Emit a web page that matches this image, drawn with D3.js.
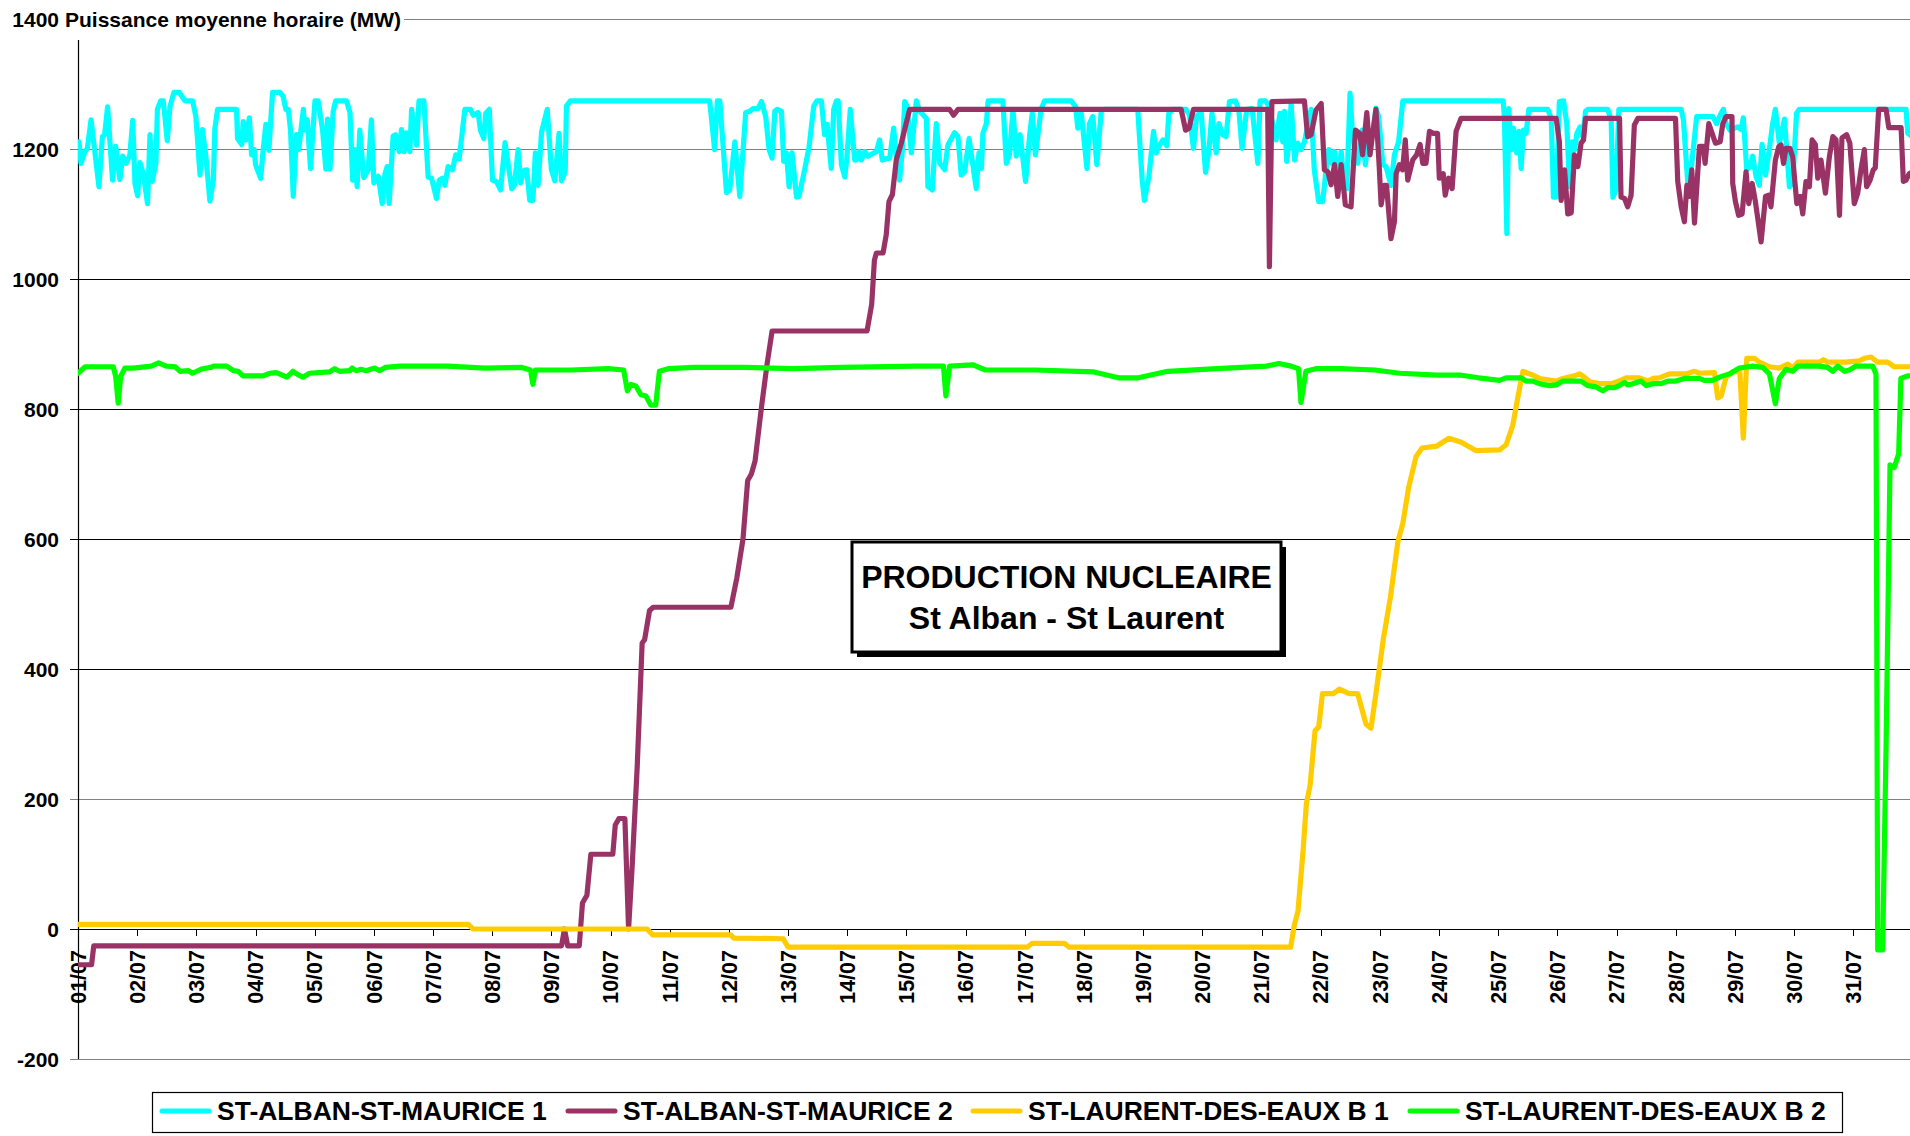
<!DOCTYPE html>
<html><head><meta charset="utf-8">
<script src="https://cdn.jsdelivr.net/npm/d3@7"></script>
<style>
body{margin:0;background:#fff}
svg{display:block}
text{font-family:"Liberation Sans",Arial,Helvetica,sans-serif;font-weight:bold;fill:#000}
</style>
</head><body>
<svg id="chart" width="1910" height="1136"></svg>
<script>
// ---- data (hour since 01/07 00:00, MW) ----
const dayLabels = ["01/07","02/07","03/07","04/07","05/07","06/07","07/07","08/07","09/07","10/07","11/07","12/07","13/07","14/07","15/07","16/07","17/07","18/07","19/07","20/07","21/07","22/07","23/07","24/07","25/07","26/07","27/07","28/07","29/07","30/07","31/07"];
const yTickValues = [-200,0,200,400,600,800,1000,1200,1400];
const seriesNames = ["ST-ALBAN-ST-MAURICE 1","ST-ALBAN-ST-MAURICE 2","ST-LAURENT-DES-EAUX B 1","ST-LAURENT-DES-EAUX B 2"];
const seriesColors = ["#00FFFF","#993366","#FFCC00","#00FF00"];
const chartTitle = ["PRODUCTION NUCLEAIRE","St Alban - St Laurent"];
const yAxisTitle = "Puissance moyenne horaire (MW)";

const stAlban1 = [[0.4,1211],[1.2,1178],[2.8,1196],[3.8,1201],[5.3,1245],[8.5,1142],[9.9,1219],[10.8,1222],[12,1265],[14,1152],[15.3,1204],[17,1153],[18.1,1189],[19.5,1178],[21,1190],[22.2,1244],[23.1,1147],[24.2,1128],[25.1,1179],[26.5,1162],[28.2,1116],[29.2,1222],[30.1,1150],[31.6,1178],[32.2,1261],[33.5,1274],[34.6,1274],[36.2,1213],[37.3,1265],[38.9,1287],[41.1,1287],[43.4,1274],[46.5,1274],[47.8,1250],[49.5,1160],[50.5,1230],[51.9,1187],[53.5,1120],[54.9,1152],[55.5,1231],[56.6,1261],[64.3,1261],[64.7,1216],[66.4,1207],[67,1242],[68.1,1214],[69.5,1248],[70.4,1191],[71.5,1199],[72,1176],[74.1,1155],[75.1,1199],[76.2,1238],[77.4,1198],[78.1,1239],[78.9,1287],[81.9,1287],[83.2,1281],[84.3,1261],[85.3,1261],[86.2,1229],[87.3,1127],[88.6,1222],[89.5,1199],[91.4,1261],[92,1229],[93,1245],[94.3,1170],[96.1,1274],[97.4,1274],[99.2,1229],[100.5,1169],[101.2,1246],[102.2,1169],[103.5,1258],[104.5,1274],[108.9,1274],[110.3,1256],[111.4,1152],[112.3,1199],[113.2,1142],[114.3,1229],[115.9,1156],[117.7,1168],[119,1245],[120,1148],[121.8,1158],[123.4,1116],[124.5,1162],[125.4,1173],[126.2,1116],[127.8,1220],[128.8,1222],[130.3,1196],[131.2,1230],[132.3,1196],[133.2,1225],[134.6,1196],[135.3,1261],[137.3,1206],[138.3,1274],[140.3,1274],[142,1157],[143.4,1155],[145.4,1124],[146.5,1152],[147.8,1155],[148.8,1144],[150.1,1173],[151.9,1168],[153.2,1191],[154.6,1185],[156.9,1261],[159.2,1261],[160.3,1252],[162.3,1256],[163.2,1229],[164.6,1216],[165.4,1255],[166.8,1261],[168.1,1152],[169.7,1150],[171.4,1137],[173.2,1210],[175.9,1139],[177,1144],[178.5,1199],[179.5,1148],[180.8,1167],[182,1168],[183.2,1121],[184.5,1121],[185.5,1194],[186.6,1144],[188,1226],[190.3,1261],[192,1168],[193.4,1151],[195.1,1224],[196.1,1151],[197.6,1165],[198.1,1266],[199.7,1274],[256.2,1274],[258.2,1199],[259.3,1274],[260.3,1274],[263,1133],[264.3,1137],[266.4,1211],[268.4,1127],[270.8,1256],[272.4,1258],[273.8,1262],[275.8,1262],[277.2,1273],[278.9,1250],[280.3,1199],[281.5,1186],[282.6,1258],[283.5,1261],[285.3,1258],[286.2,1181],[287.3,1194],[288.4,1142],[289.6,1194],[291.4,1126],[292.4,1127],[294.7,1168],[296.5,1203],[298.4,1266],[299.7,1274],[301.5,1274],[302.8,1222],[303.8,1238],[305.5,1170],[306.5,1261],[307.6,1274],[308.3,1274],[309.6,1176],[311,1157],[311.9,1189],[313.2,1261],[315,1183],[315.7,1183],[316.8,1196],[317.7,1183],[319.1,1196],[320.4,1189],[321.8,1192],[323.8,1196],[325.1,1214],[326.2,1183],[327.8,1185],[329.2,1186],[330.8,1232],[331.9,1186],[333.2,1152],[334.3,1196],[335.3,1273],[336.2,1266],[338,1194],[340,1274],[341.4,1258],[344.1,1247],[344.7,1142],[346.5,1137],[348.1,1239],[349.5,1178],[351.5,1168],[352.8,1206],[355.5,1225],[356.9,1219],[358.2,1160],[359.6,1165],[361.4,1216],[364.3,1139],[365.4,1194],[366.4,1170],[367,1224],[368.4,1239],[369.1,1274],[375.1,1274],[376.5,1178],[377.8,1191],[379.2,1261],[380.5,1189],[382.1,1222],[384.3,1150],[385.9,1219],[387,1255],[388.3,1191],[390.6,1261],[392,1274],[402.8,1274],[404.6,1265],[405.5,1232],[406.9,1255],[409.2,1170],[410.2,1239],[411.6,1250],[413.2,1176],[415,1258],[416.3,1261],[429.8,1261],[431.6,1152],[432.5,1121],[434.3,1157],[436.2,1227],[437.3,1194],[438.6,1206],[440,1214],[441.6,1205],[442.4,1255],[444,1261],[449.4,1261],[450.8,1252],[452.4,1201],[453.7,1250],[455.5,1258],[457.3,1164],[458.6,1196],[459.9,1255],[461.6,1194],[462.7,1239],[464.3,1222],[465.6,1219],[467,1273],[469.4,1274],[470.8,1260],[472.1,1201],[474,1261],[476.2,1262],[478.5,1178],[479.4,1274],[481.6,1274],[483,1266],[485.9,1214],[487.5,1255],[488.6,1211],[489.3,1258],[490.2,1181],[491.3,1214],[492,1271],[493.4,1183],[494.7,1209],[496,1199],[497.4,1211],[500.1,1261],[501.4,1168],[503.2,1119],[504.8,1119],[506.2,1168],[507.3,1199],[508.6,1178],[509.6,1196],[510.9,1150],[512.3,1196],[513,1168],[514.6,1139],[515.9,1286],[517,1216],[519,1178],[520.8,1229],[522.1,1176],[523.5,1224],[525.1,1222],[526.4,1263],[527.5,1250],[529.2,1176],[530.5,1173],[532.5,1144],[533.9,1191],[535.6,1211],[537.3,1274],[578,1274],[578.5,1250],[579.5,1070],[580.3,1262],[581.2,1199],[582.2,1232],[583.5,1194],[584.4,1227],[585.3,1170],[586.2,1229],[587.3,1224],[588.4,1261],[596.1,1261],[597.5,1247],[598.4,1126],[599.5,1126],[600.8,1273],[602.5,1274],[603.8,1239],[604.9,1142],[606,1211],[607,1199],[607.9,1224],[609.2,1234],[610.3,1219],[611.4,1258],[612.3,1261],[620.4,1261],[621.8,1245],[622.5,1126],[623.8,1137],[624.9,1261],[650.2,1261],[651.1,1245],[652.9,1147],[654.2,1168],[656.5,1250],[660.3,1250],[663,1250],[664.6,1239],[666,1252],[667.3,1261],[668.4,1239],[670,1229],[673.1,1234],[674.5,1230],[675.4,1248],[676.8,1168],[678.1,1173],[679.2,1189],[680.6,1157],[681.9,1144],[683,1207],[684.4,1160],[686,1201],[687.3,1239],[688.4,1261],[690,1209],[692.1,1246],[694.1,1142],[695.4,1147],[697,1255],[698.1,1261],[741.4,1261],[742.1,1224],[744,1219]];

const stAlban2 = [[0,-55],[5.5,-55],[6.4,-26],[196.1,-26],[197.3,0],[198.6,-26],[203.3,-26],[204.6,40],[206.4,52],[208,115],[216.9,115],[217.9,160],[219.4,170],[221.8,170],[223.3,0],[224.8,100],[226.8,250],[228.8,440],[229.8,445],[231.8,490],[233.3,495],[264.8,495],[267.2,540],[269.7,600],[271.6,690],[273.1,700],[274.6,720],[277.1,800],[279.5,870],[281.5,920],[320,920],[321.9,961],[323,1029],[323.8,1040],[326.5,1040],[327.8,1068],[328.9,1119],[330.3,1130],[331.9,1184],[333.9,1209],[337.3,1261],[353.5,1261],[355.1,1252],[356.9,1261],[447.4,1261],[449.2,1229],[450.6,1232],[452.4,1261],[482.5,1261],[483.2,1019],[484.2,1273],[497.4,1274],[498.7,1219],[500.1,1222],[502.1,1260],[504.2,1270],[505.5,1168],[506.9,1165],[508.2,1145],[509.6,1176],[510.9,1127],[512.3,1176],[514,1114],[516.3,1111],[518.1,1229],[519.8,1224],[521,1191],[522.7,1256],[524,1191],[525.2,1227],[526.4,1261],[527.8,1168],[528.5,1114],[529.8,1144],[530.7,1144],[532.5,1062],[533.9,1088],[534.6,1162],[535.9,1176],[537.2,1168],[538.3,1214],[539.3,1152],[541.3,1183],[542.9,1191],[544.3,1207],[545.4,1178],[546.7,1178],[548.1,1227],[549.7,1224],[551.4,1224],[552.1,1155],[553.7,1162],[554.5,1129],[555.9,1155],[557.3,1139],[558.9,1227],[560.9,1247],[599.5,1247],[600.8,1211],[601.5,1121],[602.9,1168],[604.2,1100],[605.6,1102],[606.9,1191],[608.3,1173],[609.6,1209],[610.6,1214],[611.4,1247],[625.2,1247],[625.8,1126],[627.2,1124],[628.5,1111],[629.9,1129],[631.2,1237],[632.6,1247],[647.9,1247],[648.8,1150],[650.2,1111],[651.5,1088],[652.5,1144],[653.5,1127],[654.5,1168],[655.6,1086],[657.6,1204],[659.2,1204],[659.9,1178],[661.4,1239],[664.1,1209],[666,1211],[667.1,1239],[668.4,1250],[670.8,1250],[671.1,1147],[672.2,1119],[673.5,1098],[674.9,1100],[676.5,1165],[677.6,1116],[679,1147],[680.3,1119],[682.6,1057],[684.4,1127],[685.7,1129],[686.6,1111],[688.4,1183],[689.8,1204],[690.7,1206],[691.7,1178],[692.7,1201],[694.3,1201],[695.4,1188],[697.1,1116],[698.5,1127],[699.5,1100],[700.8,1150],[702.2,1142],[703.3,1214],[704.6,1207],[705.6,1155],[706.9,1183],[708.7,1132],[710.3,1188],[711.7,1219],[713,1214],[714.4,1098],[715.4,1217],[717.3,1222],[718.6,1209],[720.4,1116],[721.8,1132],[723.1,1168],[724.5,1199],[725.4,1142],[726.8,1152],[728.1,1168],[728.9,1171],[730.3,1261],[733.3,1261],[734.4,1233],[739.4,1233],[740.3,1150],[741.4,1152],[742.7,1162],[744,1165]];

const stLaurentB1 = [[0,7],[158.4,7],[160.2,0],[230.8,0],[233,-9],[264.7,-9],[266,-14],[286,-15],[288,-28],[385,-28],[387,-22],[400,-22],[402,-28],[491.8,-28],[493.3,6],[494.8,28],[496.8,118],[498.2,193],[499.7,221],[501.7,305],[503.2,311],[504.7,362],[509.1,362],[511.6,369],[515.5,362],[519,362],[522.4,315],[524.4,309],[526.4,362],[529.4,446],[532.3,511],[535.3,596],[537.3,624],[539.7,680],[542.7,727],[545.1,740],[551.1,743],[556,755],[561,749],[566.9,736],[576.5,737],[579.2,745],[581.9,775],[583.9,817],[586,858],[588,855],[590,852],[592.7,847],[599.5,843],[602.2,847],[606.9,851],[609,854],[611,849],[613,842],[617,839],[622,839],[625,843],[627.9,848],[633,848],[636.6,843],[638.7,847],[641.4,848],[645.4,854],[652.2,854],[655.6,858],[657.6,855],[663.7,856],[665,817],[666.4,820],[668.4,849],[671.1,857],[674,858],[675.4,755],[676.8,878],[679.9,878],[681.9,872],[686,865],[690,863],[693.4,869],[695.4,863],[697.5,872],[706.2,872],[707.9,876],[709.6,872],[717,872],[722.4,874],[724.5,878],[727.2,880],[729.9,872],[733.9,872],[736.6,865],[744,865]];

const stLaurentB2 = [[0,855],[2.9,865],[14.3,865],[15.3,850],[16.3,809],[17.3,850],[19,863],[22.4,863],[29.7,866],[32.7,871],[35.8,866],[39.4,865],[41.4,858],[44.8,859],[46.4,855],[50.5,862],[53.9,864],[54.9,866],[60.3,866],[63,859],[65,858],[66.9,851],[75,851],[77.8,855],[80.5,856],[84.7,849],[87.2,858],[89.5,852],[91.2,849],[93.9,855],[102,857],[104.1,862],[106.1,858],[110.2,859],[111.2,863],[112.8,859],[114.8,861],[116.8,859],[120.3,863],[122.3,859],[124.6,864],[130.7,866],[150,866],[165,863],[180,864],[183.5,860],[184.5,838],[185.5,860],[200,860],[215,862],[221.3,860],[222.8,828],[224.3,838],[226.3,835],[228.3,822],[230.3,820],[232.3,806],[234.3,806],[235.8,858],[239.3,862],[250,864],[270,864],[290,862],[310,864],[340,866],[351,866],[352,820],[353.5,866],[363,868],[368,860],[388,860],[412,857],[422,848],[430,848],[442,858],[462,862],[482,866],[487,870],[492,866],[495,862],[496,810],[498,858],[502,862],[512,862],[526,860],[536,855],[551,852],[561,852],[568,848],[576.5,844],[579.2,848],[585.3,848],[587.3,843],[590,843],[592.7,839],[596.8,836],[599.5,837],[602.2,843],[609.6,843],[612.3,836],[615.7,834],[618.4,828],[620.4,833],[623.1,833],[625.1,836],[627.2,841],[628.5,837],[630.6,839],[633.9,843],[636,836],[638.7,839],[642,839],[644.7,843],[648.1,843],[651.5,847],[657.6,847],[659.6,844],[663,844],[665.7,849],[669.7,854],[673.8,863],[679.2,866],[683.3,864],[686,854],[688.4,808],[690,847],[692.7,861],[695.4,858],[697.5,866],[706.2,866],[709.6,864],[711.6,858],[713.7,866],[716.4,858],[718.4,860],[721.1,866],[727.9,866],[729.2,854],[729.9,-32],[731.9,-32],[733.3,281],[734.9,714],[736.6,710],[738.4,731],[739.3,847],[742,851],[744,851]];

const seriesData = [stAlban1, stAlban2, stLaurentB1, stLaurentB2];

// ---- layout ----
const svg = d3.select("#chart");
const x = d3.scaleLinear().domain([0, 743]).range([78, 1910]);
const y = d3.scaleLinear().domain([-200, 1400]).range([1059, 19]);
const xLeft = 78, xRight = 1910;

// gridlines + left ticks
const darkLines = new Set([0, 400, 600, 800, 1000]);
svg.append("g").selectAll("line").data(yTickValues).join("line")
  .attr("x1", d => d === 1400 ? 404 : 70)
  .attr("x2", xRight)
  .attr("y1", d => Math.round(y(d)) + 0.5)
  .attr("y2", d => Math.round(y(d)) + 0.5)
  .attr("stroke", d => darkLines.has(d) ? "#000" : "#808080")
  .attr("stroke-width", 1);

// y labels
svg.append("g").selectAll("text").data(yTickValues).join("text")
  .attr("x", 59).attr("y", d => y(d)).attr("dy", "0.36em")
  .attr("text-anchor", "end").style("font-size", "21px")
  .text(d => d);

// y axis title
svg.append("text").attr("x", 65).attr("y", y(1400)).attr("dy", "0.36em")
  .style("font-size", "21px").text(yAxisTitle);

// y axis line
svg.append("line").attr("x1", xLeft + 0.5).attr("x2", xLeft + 0.5)
  .attr("y1", 40).attr("y2", y(-200)).attr("stroke", "#000").attr("stroke-width", 1.2);

// x ticks + labels
const dayPos = dayLabels.map((d, i) => ({label: d, h: i * 24}));
svg.append("g").selectAll("line").data(dayPos).join("line")
  .attr("x1", d => Math.round(x(d.h)) + 0.5).attr("x2", d => Math.round(x(d.h)) + 0.5)
  .attr("y1", y(0)).attr("y2", y(0) + 7)
  .attr("stroke", "#000").attr("stroke-width", 1);
svg.append("g").selectAll("text").data(dayPos).join("text")
  .attr("transform", d => `translate(${x(d.h)},${y(0) + 21}) rotate(-90)`)
  .attr("text-anchor", "end").attr("dy", "0.36em")
  .style("font-size", "21.5px").text(d => d.label);

// series lines
const line = d3.line().x(d => x(d[0])).y(d => y(d[1]));
svg.append("defs").append("clipPath").attr("id", "plotclip")
  .append("rect").attr("x", xLeft).attr("y", 0).attr("width", xRight - xLeft).attr("height", 1080);
const lg = svg.append("g").attr("clip-path", "url(#plotclip)");
seriesData.forEach((s, i) => {
  lg.append("path").datum(s).attr("d", line)
    .attr("fill", "none").attr("stroke", seriesColors[i])
    .attr("stroke-width", 5.2).attr("stroke-linejoin", "round").attr("stroke-linecap", "round");
});

// title box
const tb = {x: 852, y: 542, w: 429, h: 110};
svg.append("rect").attr("x", tb.x + 5).attr("y", tb.y + 5).attr("width", tb.w).attr("height", tb.h).attr("fill", "#000");
svg.append("rect").attr("x", tb.x).attr("y", tb.y).attr("width", tb.w).attr("height", tb.h)
  .attr("fill", "#fff").attr("stroke", "#000").attr("stroke-width", 3);
svg.append("text").attr("x", tb.x + tb.w / 2).attr("y", 588).attr("text-anchor", "middle")
  .style("font-size", "32px").text(chartTitle[0]);
svg.append("text").attr("x", tb.x + tb.w / 2).attr("y", 629).attr("text-anchor", "middle")
  .style("font-size", "32px").text(chartTitle[1]);

// legend
svg.append("rect").attr("x", 152.5).attr("y", 1092.5).attr("width", 1690).attr("height", 40)
  .attr("fill", "#fff").attr("stroke", "#000").attr("stroke-width", 1.2);
const legendX = [160, 566, 971, 1408];
seriesNames.forEach((n, i) => {
  svg.append("line").attr("x1", legendX[i] + 2).attr("x2", legendX[i] + 49)
    .attr("y1", 1111).attr("y2", 1111)
    .attr("stroke", seriesColors[i]).attr("stroke-width", 5).attr("stroke-linecap", "round");
  svg.append("text").attr("x", legendX[i] + 57).attr("y", 1120)
    .style("font-size", "26.5px").text(n);
});
</script>
</body></html>
